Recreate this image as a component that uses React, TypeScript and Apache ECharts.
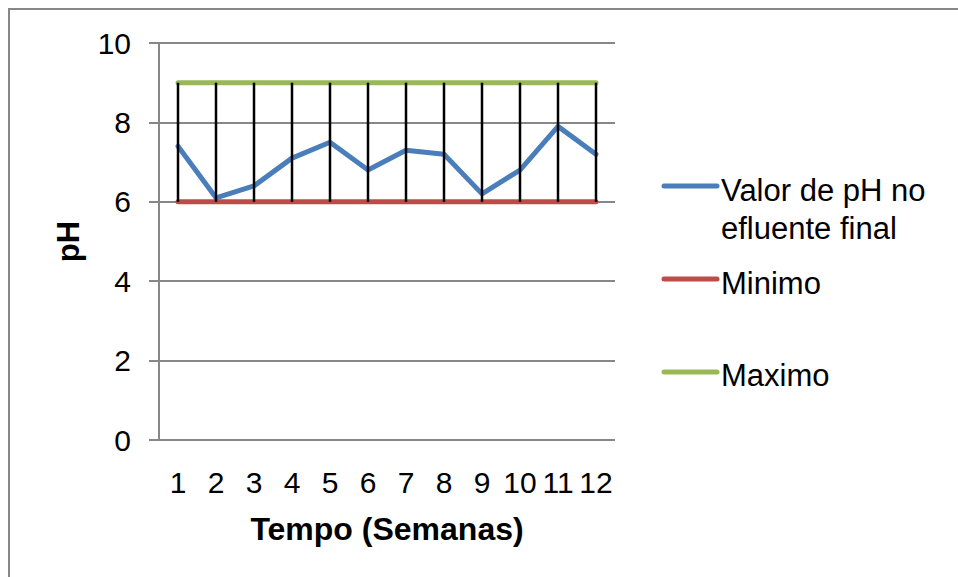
import React, { useEffect, useRef } from "react";
import * as echarts from "echarts";

const semanas = ["1", "2", "3", "4", "5", "6", "7", "8", "9", "10", "11", "12"];
const valorPH = [7.4, 6.1, 6.4, 7.1, 7.5, 6.8, 7.3, 7.2, 6.2, 6.8, 7.9, 7.2];
const minimo = [6, 6, 6, 6, 6, 6, 6, 6, 6, 6, 6, 6];
const maximo = [9, 9, 9, 9, 9, 9, 9, 9, 9, 9, 9, 9];
const yTicks = [0, 2, 4, 6, 8, 10];

const NAME_VALOR = "Valor de pH no\nefluente final";
const NAME_MIN = "Minimo";
const NAME_MAX = "Maximo";

const BLUE = "#4A7EBB";
const RED = "#BE4B48";
const GREEN = "#98B954";

export default function App() {
  const ref = useRef<HTMLDivElement>(null);
  useEffect(() => {
    if (!ref.current) return;
    const chart = echarts.init(ref.current, undefined, { renderer: "svg" });
    const font = "Arial, 'Liberation Sans', Helvetica, sans-serif";
    const gray = "#878787";
    const legendItems = [
      { name: NAME_VALOR, color: BLUE, iconY: 186, textTop: 171 },
      { name: NAME_MIN, color: RED, iconY: 279, textTop: 264 },
      { name: NAME_MAX, color: GREEN, iconY: 372, textTop: 356 },
    ];
    const legendGraphics: any[] = [];
    legendItems.forEach((it) => {
      legendGraphics.push({
        type: "line",
        shape: { x1: 664, y1: it.iconY, x2: 717, y2: it.iconY },
        style: { stroke: it.color, lineWidth: 5, lineCap: "round" },
        silent: true,
      });
      legendGraphics.push({
        type: "text",
        x: 721,
        y: it.textTop,
        style: {
          text: it.name,
          fontSize: 31,
          lineHeight: 38,
          fill: "#000",
          fontFamily: font,
          align: "left",
          verticalAlign: "top",
        },
        silent: true,
      });
    });
    chart.setOption({
      animation: false,
      backgroundColor: "#fff",
      textStyle: { fontFamily: font },
      graphic: [
        {
          type: "rect",
          shape: { x: 9, y: 9, width: 1200, height: 1200 },
          style: { fill: "none", stroke: gray, lineWidth: 2 },
          silent: true,
          z: -10,
        },
        ...legendGraphics,
      ],
      grid: { left: 159, right: 343, top: 43, bottom: 137, containLabel: false },
      xAxis: {
        type: "category",
        data: semanas,
        boundaryGap: true,
        axisLine: { show: false },
        axisTick: { show: false },
        axisLabel: { fontSize: 30, color: "#000", margin: 27, interval: 0, fontFamily: font },
        name: "Tempo (Semanas)",
        nameLocation: "middle",
        nameGap: 73,
        nameTextStyle: { fontSize: 32, fontWeight: "bold", color: "#000", fontFamily: font },
      },
      yAxis: {
        type: "value",
        min: yTicks[0],
        max: yTicks[yTicks.length - 1],
        interval: 2,
        axisLine: { show: true, lineStyle: { color: gray, width: 2 } },
        axisTick: { show: true, length: 10, lineStyle: { color: gray, width: 2 } },
        axisLabel: { fontSize: 30, color: "#000", margin: 28, fontFamily: font },
        splitLine: { show: true, lineStyle: { color: gray, width: 2 } },
        name: "pH",
        nameLocation: "middle",
        nameGap: 75,
        nameTextStyle: { fontSize: 31, fontWeight: "bold", color: "#000", fontFamily: font },
      },
      series: [
        {
          name: NAME_VALOR,
          type: "line",
          data: valorPH,
          symbol: "none",
          lineStyle: { color: BLUE, width: 5, cap: "round", join: "round" },
          itemStyle: { color: BLUE },
          z: 2,
        },
        {
          name: NAME_MIN,
          type: "line",
          data: minimo,
          symbol: "none",
          lineStyle: { color: RED, width: 5, cap: "round" },
          itemStyle: { color: RED },
          z: 3,
        },
        {
          name: NAME_MAX,
          type: "line",
          data: maximo,
          symbol: "none",
          lineStyle: { color: GREEN, width: 5, cap: "round" },
          itemStyle: { color: GREEN },
          z: 3,
        },
        {
          name: "hilo",
          type: "custom",
          data: semanas.map((_, i) => [i, minimo[i], maximo[i]]),
          renderItem: (_params: any, api: any) => {
            const p1 = api.coord([api.value(0), api.value(1)]);
            const p2 = api.coord([api.value(0), api.value(2)]);
            return {
              type: "line",
              shape: { x1: p1[0], y1: p1[1], x2: p2[0], y2: p2[1] },
              style: { stroke: "#000", lineWidth: 2.5 },
            };
          },
          z: 5,
          silent: true,
        },
      ],
    });
    return () => chart.dispose();
  }, []);
  return (
    <div
      ref={ref}
      style={{ position: "fixed", left: 0, top: 0, width: 958, height: 577 }}
    />
  );
}
